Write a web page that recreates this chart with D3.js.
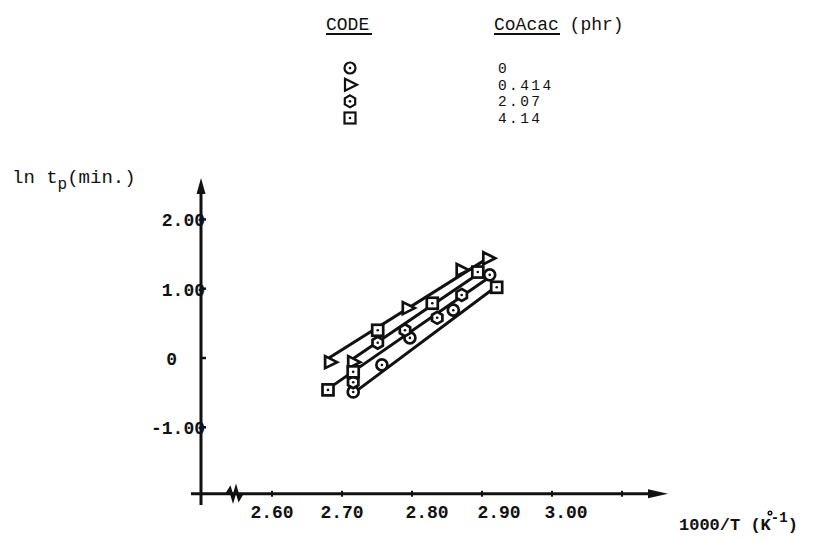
<!DOCTYPE html>
<html>
<head>
<meta charset="utf-8">
<script src="https://cdn.jsdelivr.net/npm/d3@7"></script>
<style>
  body { margin: 0; background: #fff; }
  text { font-family: "Liberation Mono", "DejaVu Sans Mono", monospace; fill: #111; }
</style>
</head>
<body>
<svg id="chart" width="821" height="541"></svg>
<script>
// legend entries (code -> CoAcac phr)
const codes = ["circle", "triangle", "hexagon", "square"];
const coacac = ["0", "0.414", "2.07", "4.14"];

// points: [1000/T, ln tp]
const ptsCircle = [[2.716, -0.49], [2.757, -0.10], [2.797, 0.29], [2.859, 0.69], [2.911, 1.20]];
const ptsTriangle = [[2.683, -0.06], [2.716, -0.06], [2.794, 0.72], [2.871, 1.27], [2.909, 1.44]];
const ptsHexagon = [[2.716, -0.35], [2.751, 0.22], [2.790, 0.40], [2.836, 0.58], [2.871, 0.91]];
const ptsSquare = [[2.680, -0.46], [2.716, -0.20], [2.751, 0.40], [2.829, 0.79], [2.894, 1.24], [2.921, 1.02]];

// fitted straight lines [x0, y0, x1, y1]
const fitLines = [
  [2.675, -0.04, 2.913, 1.47],
  [2.713, -0.03, 2.897, 1.23],
  [2.678, -0.46, 2.911, 1.17],
  [2.716, -0.51, 2.919, 1.02]
];

const xTicks = [2.6, 2.7, 2.8, 2.9, 3.0, 3.1];
const xTickLabels = ["2.60", "2.70", "2.80", "2.90", "3.00"];
const yTicks = [2, 1, 0, -1];
const yTickLabels = ["2.00", "1.00", "0", "-1.00"];

const svg = d3.select("#chart");

const x = d3.scaleLinear().domain([2.6, 2.9]).range([272, 482]);
const y = d3.scaleLinear().domain([0, 1]).range([358, 288.7]);

const x0 = 201, yAxisBottom = 505, yAxisTop = 178;
const xAxisY = y(-1.96), xAxisLeft = 191, xAxisRight = 668;

// axes
svg.append("line").attr("x1", x0).attr("x2", x0).attr("y1", yAxisBottom).attr("y2", yAxisTop + 10)
  .attr("stroke", "#111").attr("stroke-width", 3);
svg.append("path").attr("d", `M${x0},${yAxisTop} L${x0 - 4.5},${yAxisTop + 16} L${x0 + 4.5},${yAxisTop + 16}Z`)
  .attr("fill", "#111");
svg.append("line").attr("x1", xAxisLeft).attr("x2", xAxisRight - 12).attr("y1", xAxisY).attr("y2", xAxisY)
  .attr("stroke", "#111").attr("stroke-width", 3);
svg.append("path").attr("d", `M${xAxisRight},${xAxisY} L${xAxisRight - 20},${xAxisY - 4.5} L${xAxisRight - 20},${xAxisY + 4.5}Z`)
  .attr("fill", "#111");

// axis break
svg.append("path")
  .attr("d", `M${x0 + 26},${xAxisY} l3,-5 l3,10 l3,-10 l3,10 l3,-5`)
  .attr("fill", "none").attr("stroke", "#111").attr("stroke-width", 3);

// ticks
svg.selectAll(".xt").data(xTicks).enter().append("line")
  .attr("x1", d => x(d)).attr("x2", d => x(d))
  .attr("y1", xAxisY - 3).attr("y2", xAxisY + 3)
  .attr("stroke", "#111").attr("stroke-width", 2);
svg.selectAll(".yt").data(yTicks).enter().append("line")
  .attr("x1", x0).attr("x2", x0 + 5)
  .attr("y1", d => y(d)).attr("y2", d => y(d))
  .attr("stroke", "#111").attr("stroke-width", 2.5);

const xLabelShift = [0, 0, 15, 17, 14];
svg.selectAll(".xl").data(xTickLabels).enter().append("text")
  .attr("x", (d, i) => x(xTicks[i]) + xLabelShift[i])
  .attr("y", xAxisY + 24)
  .attr("text-anchor", "middle")
  .attr("font-size", 18).attr("font-weight", "bold")
  .text(d => d);

svg.selectAll(".yl").data(yTickLabels).enter().append("text")
  .attr("x", d => d === "0" ? 177 : 205)
  .attr("y", (d, i) => y(yTicks[i]) + 7)
  .attr("text-anchor", "end")
  .attr("font-size", 18).attr("font-weight", "bold")
  .text(d => d);

// axis titles
const yt = svg.append("text").attr("x", 12).attr("y", 183).attr("font-size", 19);
yt.append("tspan").text("ln t");
yt.append("tspan").attr("dy", 6).attr("font-size", 16).text("p");
yt.append("tspan").attr("dy", -6).text("(min.)");

const xt = svg.append("text").attr("x", 679).attr("y", 530).attr("font-size", 17).attr("font-weight", "bold");
xt.append("tspan").text("1000/T (K");
xt.append("tspan").attr("dy", -8).attr("font-size", 14).text("-1");
xt.append("tspan").attr("dy", 8).text(")");
// small ring over the K
svg.append("circle").attr("cx", 770).attr("cy", 513).attr("r", 1.8)
  .attr("fill", "none").attr("stroke", "#111").attr("stroke-width", 1.5);

// fitted lines
svg.selectAll(".fit").data(fitLines).enter().append("line")
  .attr("x1", d => x(d[0])).attr("y1", d => y(d[1]))
  .attr("x2", d => x(d[2])).attr("y2", d => y(d[3]))
  .attr("stroke", "#111").attr("stroke-width", 3);

// markers
function marker(g, type) {
  g.attr("fill", "#fff").attr("stroke", "#111").attr("stroke-width", 2.7);
  if (type === "circle") {
    g.append("circle").attr("r", 5.5);
    g.append("circle").attr("r", 1.3).attr("fill", "#111").attr("stroke", "none");
  } else if (type === "triangle") {
    g.append("path").attr("d", "M-5,-6 L7,0 L-5,6Z");
  } else if (type === "hexagon") {
    const hex = d3.range(6).map(i => {
      const a = Math.PI / 3 * i - Math.PI / 2;
      return [6 * Math.cos(a), 6 * Math.sin(a)];
    });
    g.append("path").attr("d", "M" + hex.join("L") + "Z");
    g.append("circle").attr("r", 1.3).attr("fill", "#111").attr("stroke", "none");
  } else {
    g.append("rect").attr("x", -5.5).attr("y", -5.5).attr("width", 11).attr("height", 11);
    g.append("circle").attr("r", 1.3).attr("fill", "#111").attr("stroke", "none");
  }
}

const series = [ptsCircle, ptsTriangle, ptsHexagon, ptsSquare];
series.forEach((pts, si) => {
  svg.selectAll(".m" + si).data(pts).enter().append("g")
    .attr("transform", d => `translate(${x(d[0])},${y(d[1])})`)
    .each(function() { marker(d3.select(this), codes[si]); });
});

// legend
svg.append("text").attr("x", 326).attr("y", 30).attr("font-size", 18).text("CODE");
svg.append("line").attr("x1", 326).attr("x2", 372).attr("y1", 34).attr("y2", 34).attr("stroke", "#111").attr("stroke-width", 2);
svg.append("text").attr("x", 494).attr("y", 30).attr("font-size", 18).text("CoAcac (phr)");
svg.append("line").attr("x1", 494).attr("x2", 560).attr("y1", 34).attr("y2", 34).attr("stroke", "#111").attr("stroke-width", 2);

const legendY = d3.scaleLinear().domain([0, 3]).range([68, 118]);
codes.forEach((c, i) => {
  const g = svg.append("g").attr("transform", `translate(350,${legendY(i)})`);
  marker(g, c);
  g.attr("stroke-width", 2.2);
  svg.append("text").attr("x", 498).attr("y", legendY(i) + 5)
    .attr("font-size", 14.5).attr("letter-spacing", 2.4).text(coacac[i]);
});
</script>
</body>
</html>
